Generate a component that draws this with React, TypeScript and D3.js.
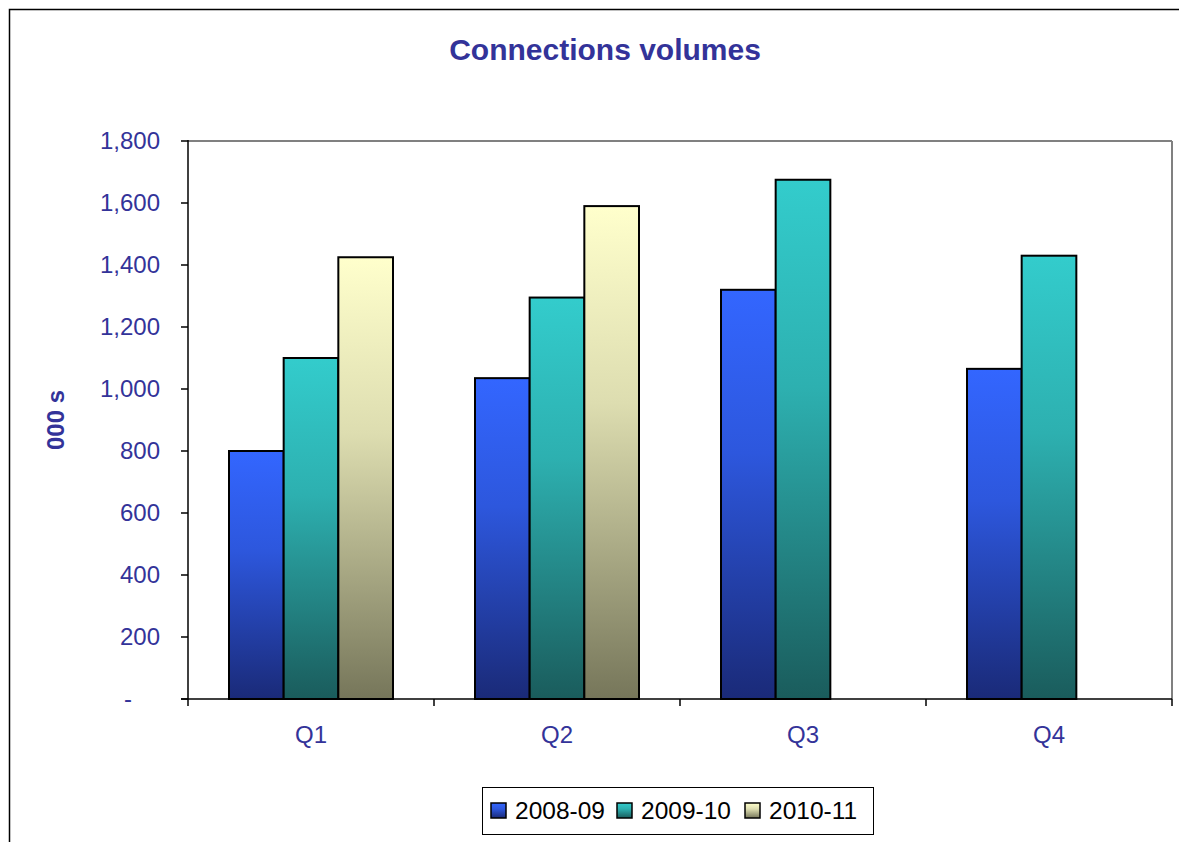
import React from "react";
import * as d3 from "d3";

const categories = ["Q1", "Q2", "Q3", "Q4"];
const seriesNames = ["2008-09", "2009-10", "2010-11"];
const values2008 = [800, 1035, 1320, 1065];
const values2009 = [1100, 1295, 1675, 1430];
const values2010: (number | null)[] = [1425, 1590, null, null];
const yTicks = [0, 200, 400, 600, 800, 1000, 1200, 1400, 1600, 1800];
const topColors = ["#3366FF", "#33CCCC", "#FFFFCC"];
const bottomColors = ["#1A2A78", "#1A5C5C", "#76765A"];

const W = 1179;
const H = 842;
const plot = { left: 188, top: 141, right: 1172, bottom: 699 };
const navy = "#333399";
const FONT = "'Liberation Sans', Arial, sans-serif";

export default function App() {
  const seriesValues = [values2008, values2009, values2010];
  const x = d3.scaleBand<string>().domain(categories).range([plot.left, plot.right]).padding(0);
  const xi = d3
    .scaleBand<string>()
    .domain(seriesNames)
    .range([0, x.bandwidth()])
    .paddingInner(0)
    .paddingOuter(0.75);
  const y = d3.scaleLinear().domain([0, 1800]).range([plot.bottom, plot.top]);
  const fmt = d3.format(",");
  const boundaries = [...categories.map((c) => x(c) as number), plot.right];

  const legendItems = [
    { name: seriesNames[0], sx: 491, tx: 515 },
    { name: seriesNames[1], sx: 617, tx: 641 },
    { name: seriesNames[2], sx: 745, tx: 769 },
  ];

  return (
    <svg
      width={W}
      height={H}
      style={{ position: "absolute", left: 0, top: 0, background: "#fff" }}
      fontFamily={FONT}
    >
      <defs>
        {seriesNames.map((s, i) => (
          <linearGradient key={s} id={`g${i}`} x1="0" y1="0" x2="0" y2="1">
            <stop offset="0" stopColor={topColors[i]} />
            <stop offset="0.4" stopColor={d3.interpolateRgb(topColors[i], bottomColors[i])(0.25)} />
            <stop offset="1" stopColor={bottomColors[i]} />
          </linearGradient>
        ))}
      </defs>
      <rect x={0} y={0} width={W} height={H} fill="#fff" />
      {/* outer chart frame */}
      <rect x={9.5} y={9.5} width={W + 20} height={H + 20} fill="none" stroke="#000" strokeWidth={1.5} />

      {/* title */}
      <text x={605} y={60} textAnchor="middle" fontSize={30} fontWeight="bold" fill={navy}>
        Connections volumes
      </text>

      {/* plot area border (top/right grey) */}
      <line x1={plot.left} y1={plot.top} x2={plot.right} y2={plot.top} stroke="#808080" strokeWidth={2} />
      <line x1={plot.right} y1={plot.top} x2={plot.right} y2={plot.bottom} stroke="#808080" strokeWidth={2} />

      {/* bars */}
      {categories.map((c, ci) =>
        seriesNames.map((s, si) => {
          const v = seriesValues[si][ci];
          if (v == null) return null;
          const bx = (x(c) as number) + (xi(s) as number);
          return (
            <rect
              key={c + s}
              x={bx}
              y={y(v)}
              width={xi.bandwidth()}
              height={y(0) - y(v)}
              fill={`url(#g${si})`}
              stroke="#000"
              strokeWidth={2}
            />
          );
        })
      )}

      {/* y axis */}
      <line x1={plot.left} y1={plot.top - 1} x2={plot.left} y2={plot.bottom} stroke="#000" strokeWidth={1.5} />
      {yTicks.map((t) => (
        <g key={t}>
          <line x1={plot.left - 7} y1={y(t)} x2={plot.left} y2={y(t)} stroke="#000" strokeWidth={1.5} />
          <text x={t === 0 ? 132 : 160} y={y(t) + 8} textAnchor="end" fontSize={24} fill={navy}>
            {t === 0 ? "-" : fmt(t)}
          </text>
        </g>
      ))}
      <text
        transform={`translate(64,420) rotate(-90)`}
        textAnchor="middle"
        fontSize={24}
        fontWeight="bold"
        fill={navy}
      >
        000 s
      </text>

      {/* x axis */}
      <line x1={plot.left - 7} y1={plot.bottom} x2={plot.right} y2={plot.bottom} stroke="#000" strokeWidth={1.5} />
      {boundaries.map((b, i) => (
        <line key={i} x1={b} y1={plot.bottom} x2={b} y2={plot.bottom + 7} stroke="#000" strokeWidth={1.5} />
      ))}
      {categories.map((c) => (
        <text
          key={c}
          x={(x(c) as number) + x.bandwidth() / 2}
          y={743}
          textAnchor="middle"
          fontSize={24}
          fill={navy}
        >
          {c}
        </text>
      ))}

      {/* legend */}
      <rect x={482.5} y={787.5} width={391} height={47} fill="#fff" stroke="#000" strokeWidth={1} />
      {legendItems.map((it, i) => (
        <g key={it.name}>
          <rect x={it.sx} y={803} width={15} height={15} fill={`url(#g${i})`} stroke="#000" strokeWidth={1.5} />
          <text x={it.tx} y={819} fontSize={24.5} fill="#000">
            {it.name}
          </text>
        </g>
      ))}
    </svg>
  );
}
